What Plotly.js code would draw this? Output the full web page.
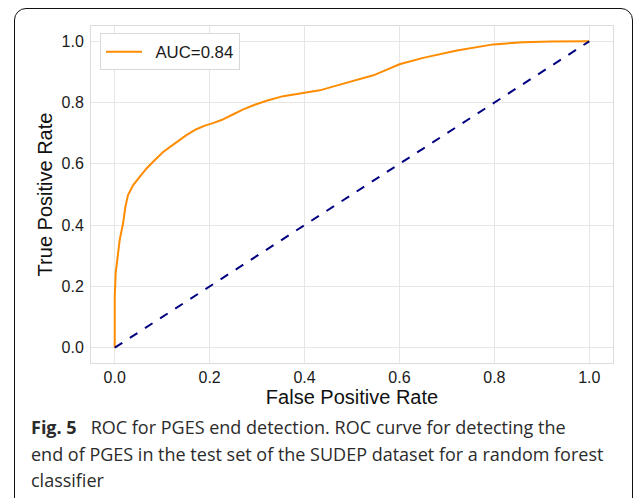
<!DOCTYPE html>
<html>
<head>
<meta charset="utf-8">
<script src="https://cdn.plot.ly/plotly-3.0.1.min.js"></script>
<style>
  html, body { margin: 0; padding: 0; background: #fff; overflow: hidden; }
  #wrap { position: relative; width: 636px; height: 498px; }
  #chart { position: absolute; left: 0; top: 0; width: 636px; height: 498px; }
  #frame { position: absolute; left: 14px; top: 8px; width: 619px; height: 520px;
           border: 1.5px solid #111; border-radius: 12px; box-sizing: border-box; pointer-events: none; }
</style>
</head>
<body>
<div id="wrap">
  <div id="chart"></div>
  <div id="frame"></div>
</div>
<script>
// ROC curve
const fpr = [0, 0, 0.002, 0.0057, 0.0105, 0.0176, 0.0225, 0.028, 0.039, 0.053, 0.067, 0.084, 0.102, 0.127, 0.151, 0.172, 0.19, 0.207, 0.225, 0.25, 0.271, 0.295, 0.32, 0.355, 0.394, 0.432, 0.482, 0.545, 0.57, 0.6, 0.65, 0.721, 0.798, 0.861, 0.92, 0.995, 1.0];
const tpr = [0, 0.167, 0.244, 0.297, 0.352, 0.406, 0.46, 0.498, 0.531, 0.558, 0.585, 0.612, 0.639, 0.667, 0.694, 0.713, 0.725, 0.733, 0.743, 0.762, 0.778, 0.793, 0.806, 0.821, 0.830, 0.840, 0.862, 0.889, 0.905, 0.925, 0.946, 0.970, 0.990, 0.997, 0.999, 1.0, 1.0];
const chanceX = [0, 1];
const chanceY = [0, 1];
const curveName = '\u2002AUC=0.84';
const tickVals = [0, 0.2, 0.4, 0.6, 0.8, 1.0];
const tickText = ['0.0', '0.2', '0.4', '0.6', '0.8', '1.0'];
const xTitle = 'False Positive Rate';
const yTitle = 'True Positive Rate';
const captionLines = [
  '<b>Fig. 5</b>   ROC for PGES end detection. ROC curve for detecting the',
  'end of PGES in the test set of the SUDEP dataset for a random forest',
  'classifier'
];

const W = 636, H = 498;
const L = 91, R = 612.7, T = 25.6, B = 363.4;
const pw = R - L, ph = B - T;
const px = x => (x - L) / pw;
const py = y => (B - y) / ph;

const traces = [
  { x: fpr, y: tpr, type: 'scatter', mode: 'lines', name: curveName,
    line: { color: '#ff8c00', width: 2 } },
  { x: chanceX, y: chanceY, type: 'scatter', mode: 'lines', showlegend: false,
    line: { color: '#000080', width: 2, dash: 'dash' } }
];

const tickFont = { family: 'Liberation Sans, Arial, sans-serif', size: 16, color: '#1a1a1a' };
const titleFont = { family: 'Liberation Sans, Arial, sans-serif', size: 20, color: '#111' };

const axisCommon = {
  range: [-0.05, 1.05], tickvals: tickVals, ticktext: tickText,
  showgrid: true, gridcolor: '#e6e6e6', gridwidth: 1,
  zeroline: false, showline: true, linecolor: '#dcdcdc', linewidth: 1, mirror: true,
  ticks: '', tickfont: tickFont
};

const annotations = captionLines.map((t, i) => ({
  text: t, xref: 'paper', yref: 'paper', x: px(29), y: py(428 + i * 26.5),
  xanchor: 'left', yanchor: 'middle', showarrow: false, align: 'left',
  font: { family: 'Open Sans, Noto Sans, sans-serif', size: 18, color: '#2b2b2b' }
}));

const layout = {
  width: W, height: H,
  margin: { l: L, r: W - R, t: T, b: H - B, pad: 0 },
  paper_bgcolor: 'rgba(0,0,0,0)', plot_bgcolor: '#fff',
  showlegend: true,
  legend: { x: px(100), y: py(33), xanchor: 'left', yanchor: 'top',
            bgcolor: '#fff', bordercolor: '#d9d9d9', borderwidth: 1, itemwidth: 36,
            font: { family: 'Liberation Sans, Arial, sans-serif', size: 16.8, color: '#1a1a1a' } },
  xaxis: Object.assign({}, axisCommon, {
    ticklabelstandoff: 0,
    title: { text: xTitle, standoff: 2, font: titleFont }
  }),
  yaxis: Object.assign({}, axisCommon, {
    ticklabelstandoff: 3,
    title: { text: yTitle, standoff: 3, font: titleFont }
  }),
  annotations: annotations
};

Plotly.newPlot('chart', traces, layout, { displayModeBar: false, staticPlot: true });
</script>
</body>
</html>
